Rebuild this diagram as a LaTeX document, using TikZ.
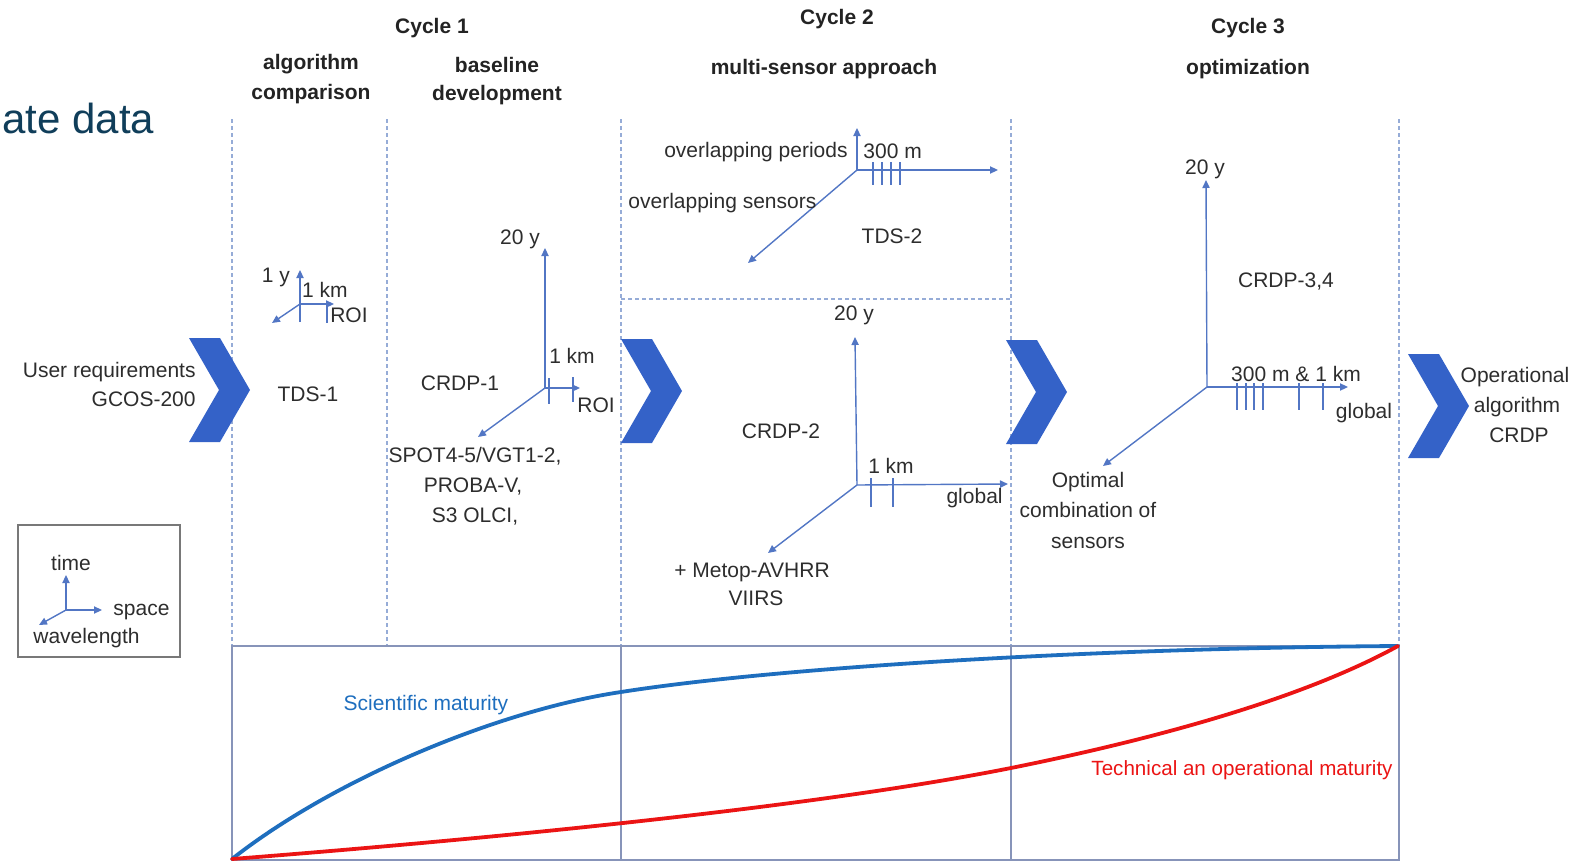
\documentclass[tikz,border=0pt]{standalone}
\usepackage{fontspec}
\setmainfont{Liberation Sans}
\usetikzlibrary{arrows.meta}
\definecolor{txt}{RGB}{45,45,45}
\definecolor{hdrc}{RGB}{35,35,35}
\definecolor{titlec}{RGB}{16,62,90}
\definecolor{axc}{RGB}{82,118,196}
\definecolor{dashc}{RGB}{150,172,215}
\definecolor{chevc}{RGB}{52,98,200}
\definecolor{framec}{RGB}{135,148,185}
\definecolor{scic}{RGB}{30,110,190}
\definecolor{tecc}{RGB}{235,20,20}
\definecolor{legc}{RGB}{120,120,120}
\tikzset{
  lbl/.style={anchor=base, inner sep=0pt, text=txt, font=\fontsize{10.5}{12}\selectfont},
  hdr/.style={anchor=base, inner sep=0pt, text=hdrc, font=\fontsize{10.5}{12}\selectfont\bfseries},
  ax/.style={draw=axc, line width=0.7pt, -{Triangle[length=4pt,width=3.6pt]}},
  tk/.style={draw=axc, line width=0.7pt},
  dl/.style={draw=dashc, line width=0.6pt, dash pattern=on 2pt off 1.5pt},
  chev/.style={fill=chevc, draw=none},
  frm/.style={draw=framec, line width=0.9pt},
}
\begin{document}
\begin{tikzpicture}[x=0.5pt,y=-0.5pt]
\useasboundingbox (0,0) rectangle (1581,862);

% title fragment
\node[anchor=base west, inner sep=0pt, text=titlec, font=\fontsize{21}{24}\selectfont] (title) at (2,133) {ate data};

% headers
\node[hdr] (c1) at (432,33) {Cycle 1};
\node[hdr] (h1a) at (311,69) {algorithm};
\node[hdr] (h1b) at (311,99) {comparison};
\node[hdr] (h2a) at (497,72) {baseline};
\node[hdr] (h2b) at (497,100) {development};
\node[hdr] (c2) at (837,25) {Cycle 2};
\node[hdr] (h3) at (824,75) {multi-sensor approach};
\node[hdr] (c3) at (1248,33) {Cycle 3};
\node[hdr] (h4) at (1248,75) {optimization};

% dashed separators
\foreach \xx in {232,387,621,1011,1399} \draw[dl] (\xx,119) -- (\xx,646);
\draw[dl] (621,299) -- (1011,299);

% chevrons
\foreach \L/\T in {189/338, 621/339, 1006/340, 1408/354}
  \fill[chev] (\L,\T) -- ++(31,0) -- ++(30,52) -- ++(-30,52) -- ++(-31,0) -- ++(30,-52) -- cycle;

% left labels
\node[lbl, anchor=base east] (ur1) at (196,377) {User requirements};
\node[lbl, anchor=base east] (ur2) at (196,406) {GCOS-200};

% legend
\draw[draw=legc, line width=0.9pt] (18,525) rectangle (180,657);
\coordinate (lo) at (66,610);
\coordinate (lt) at (66,575);
\coordinate (ls) at (102,610);
\coordinate (lw) at (39,625);
\draw[ax] (lo) -- (lt);
\draw[ax] (lo) -- (ls);
\draw[ax] (lo) -- (lw);
\node[lbl] (ltime) at (71,570) {time};
\node[lbl, anchor=base west] (lspace) at (113,615) {space};
\node[lbl, anchor=base west] (lwave) at (33,643) {wavelength};

% TDS-1 cluster
\coordinate (o1) at (300,304);
\coordinate (o1u) at (300,270);
\coordinate (o1r) at (334,304);
\coordinate (o1d) at (272,323);
\draw[tk] (300,322) -- (o1);
\draw[ax] (o1) -- (o1u);
\draw[ax] (o1) -- (o1r);
\draw[ax] (o1) -- (o1d);
\draw[tk] (327,303) -- (327,323);
\node[lbl] (t1y) at (276,282) {1 y};
\node[lbl] (t1km) at (325,297) {1 km};
\node[lbl] (t1roi) at (349,322) {ROI};
\node[lbl] (tds1) at (308,401) {TDS-1};

% CRDP-1 cluster
\coordinate (o2) at (545,388);
\coordinate (o2u) at (545,248);
\coordinate (o2r) at (580,388);
\coordinate (o2d) at (478,437);
\draw[ax] (o2) -- (o2u);
\draw[ax] (o2) -- (o2r);
\draw[ax] (o2) -- (o2d);
\draw[tk] (549,378) -- (549,404);
\draw[tk] (573,377) -- (573,402);
\node[lbl] (c1y) at (520,244) {20 y};
\node[lbl] (c1km) at (572,363) {1 km};
\node[lbl] (c1roi) at (596,412) {ROI};
\node[lbl] (crdp1) at (460,390) {CRDP-1};
\node[lbl] (s1) at (475,462) {SPOT4-5/VGT1-2,};
\node[lbl] (s2) at (473,492) {PROBA-V,};
\node[lbl] (s3) at (475,522) {S3 OLCI,};

% TDS-2 cluster
\coordinate (o3) at (857,170);
\coordinate (o3u) at (857,128);
\coordinate (o3r) at (998,170);
\coordinate (o3d) at (748,263);
\draw[ax] (o3) -- (o3u);
\draw[ax] (o3) -- (o3r);
\draw[ax] (o3) -- (o3d);
\foreach \xx in {873,882,891,900} \draw[tk] (\xx,162) -- (\xx,185);
\node[lbl, anchor=base east] (op) at (848,157) {overlapping periods};
\node[lbl, anchor=base west] (t300) at (863,158) {300 m};
\node[lbl, anchor=base west] (os) at (628,208) {overlapping sensors};
\node[lbl] (tds2) at (892,243) {TDS-2};

% CRDP-2 cluster
\coordinate (o4) at (857,485);
\coordinate (o4u) at (855,337);
\coordinate (o4r) at (1008,484);
\coordinate (o4d) at (768,553);
\draw[ax] (o4) -- (o4u);
\draw[ax] (o4) -- (o4r);
\draw[ax] (o4) -- (o4d);
\draw[tk] (871,478) -- (871,507);
\draw[tk] (893,478) -- (893,507);
\node[lbl] (c2y) at (854,320) {20 y};
\node[lbl] (c2km) at (891,473) {1 km};
\node[lbl, anchor=base east] (c2g) at (1003,503) {global};
\node[lbl] (crdp2) at (781,438) {CRDP-2};
\node[lbl] (m1) at (752,577) {+ Metop-AVHRR};
\node[lbl] (m2) at (756,605) {VIIRS};

% CRDP-3,4 cluster
\coordinate (o5) at (1207,387);
\coordinate (o5u) at (1206,180);
\coordinate (o5r) at (1348,387);
\coordinate (o5d) at (1103,466);
\draw[ax] (o5) -- (o5u);
\draw[ax] (o5) -- (o5r);
\draw[ax] (o5) -- (o5d);
\foreach \xx in {1237,1246,1254,1263,1299,1323} \draw[tk] (\xx,383) -- (\xx,410);
\node[lbl] (c3y) at (1205,174) {20 y};
\node[lbl] (crdp34) at (1286,287) {CRDP-3,4};
\node[lbl] (c3km) at (1296,381) {300 m \& 1 km};
\node[lbl] (c3g) at (1364,418) {global};
\node[lbl] (oc1) at (1088,487) {Optimal};
\node[lbl] (oc2) at (1088,517) {combination of};
\node[lbl] (oc3) at (1088,548) {sensors};

% final
\node[lbl] (f1) at (1515,382) {Operational};
\node[lbl] (f2) at (1517,412) {algorithm};
\node[lbl] (f3) at (1519,442) {CRDP};

% maturity chart
\draw[frm] (232,646) rectangle (1399,860);
\draw[frm] (621,646) -- (621,860);
\draw[frm] (1011,646) -- (1011,860);
\draw[scic, line width=1.9pt, line cap=round]
  (232,859) .. controls (335,778) and (500,710) .. (621,692)
  .. controls (780,667) and (1100,648) .. (1398,646);
\draw[tecc, line width=1.9pt, line cap=round]
  (232,859) .. controls (450,842) and (800,810) .. (1011,768)
  .. controls (1150,740) and (1300,700) .. (1398,646);
\node[lbl, text=scic] (sci) at (426,710) {Scientific maturity};
\node[lbl, anchor=base east, text=tecc, font=\fontsize{10.3}{12}\selectfont] (tec) at (1393,775) {Technical an operational maturity};
\end{tikzpicture}
\end{document}
